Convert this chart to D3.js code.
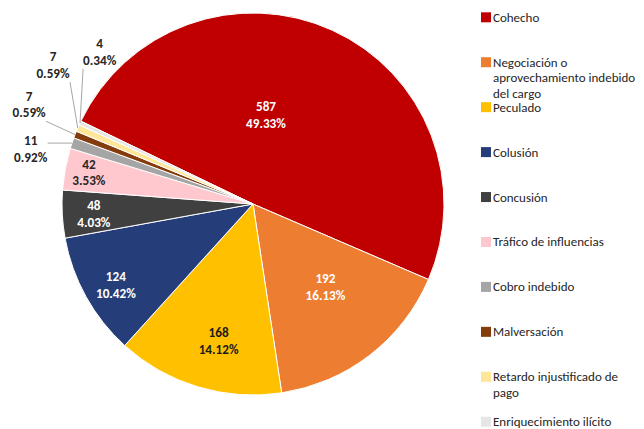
<!DOCTYPE html>
<html>
<head>
<meta charset="utf-8">
<script src="https://cdn.jsdelivr.net/npm/d3@7"></script>
<style>
  html, body { margin: 0; padding: 0; background: #fff; }
  svg { display: block; font-family: Carlito, Calibri, Lato, sans-serif; }
</style>
</head>
<body>
<div id="chart"></div>
<script>
// data
var categories = ["Cohecho", "Negociación o aprovechamiento indebido del cargo", "Peculado", "Colusión",
  "Concusión", "Tráfico de influencias", "Cobro indebido", "Malversación",
  "Retardo injustificado de pago", "Enriquecimiento ilícito"];
var counts = [587, 192, 168, 124, 48, 42, 11, 7, 7, 4];
// how the legend wraps the long names
var legendLines = [["Cohecho"], ["Negociación o", "aprovechamiento indebido", "del cargo"], ["Peculado"], ["Colusión"],
  ["Concusión"], ["Tráfico de influencias"], ["Cobro indebido"], ["Malversación"],
  ["Retardo injustificado de", "pago"], ["Enriquecimiento ilícito"]];

var colors = ["#c00000", "#ed7d31", "#ffc000", "#253e7a", "#404040", "#ffc7ce", "#a5a5a5", "#843c0c", "#ffe699", "#e7e6e6"];
var labelColors = ["#fff", "#fff", "#1a1a1a", "#fff", "#fff", "#262626", "#262626", "#262626", "#262626", "#262626"];
// label spot per slice: [angle in degrees clockwise from top, radius as share of the pie radius]
var labelLayout = [[8.3, 0.471], [138.9, 0.577], [194.1, 0.74], [239.4, 0.834], [266.4, 0.835],
  [280.9, 0.875], [283.9, 1.199], [294, 1.283], [304.8, 1.275], [314.8, 1.131]];

var width = 644, height = 429;
var cx = 253, cy = 204, R = 191;
var startDeg = -64.3;

var svg = d3.select("#chart").append("svg").attr("width", width).attr("height", height);
svg.append("rect").attr("width", width).attr("height", height).attr("fill", "#fff");

var total = d3.sum(counts);
var pct = d3.format(".2%");
var rows = counts.map(function (v, i) { return { name: categories[i], value: v, i: i }; });

var pie = d3.pie().sort(null).value(function (d) { return d.value; })
  .startAngle(startDeg * Math.PI / 180).endAngle(startDeg * Math.PI / 180 + 2 * Math.PI);
var arc = d3.arc().innerRadius(0).outerRadius(R);
var arcs = pie(rows);

var g = svg.append("g").attr("transform", "translate(" + cx + "," + cy + ")");

g.selectAll("path.slice").data(arcs).enter().append("path")
  .attr("class", "slice")
  .attr("d", arc)
  .attr("fill", function (d) { return colors[d.data.i]; })
  .attr("stroke", "#fff")
  .attr("stroke-width", 1);

function polar(deg, r) {
  var a = deg * Math.PI / 180;
  return [Math.sin(a) * r, -Math.cos(a) * r];
}

// labels
arcs.forEach(function (d) {
  var i = d.data.i;
  var p = polar(labelLayout[i][0], labelLayout[i][1] * R);
  var lg = g.append("g").attr("transform", "translate(" + p[0] + "," + p[1] + ")");
  var t = lg.append("text").attr("text-anchor", "middle")
    .attr("font-size", 13.2).attr("font-weight", "bold").attr("fill", labelColors[i]);
  t.append("tspan").attr("x", 0).attr("y", -3.6).text(d.data.value);
  t.append("tspan").attr("x", 0).attr("y", 13).text(pct(d.data.value / total));

  if (labelLayout[i][1] > 1) {
    // leader line from the slice edge to the nearest point of the label box
    var mid = (d.startAngle + d.endAngle) / 2;
    var ex = Math.sin(mid) * R, ey = -Math.cos(mid) * R;
    var b = t.node().getBBox();
    var nx = Math.max(p[0] + b.x, Math.min(ex, p[0] + b.x + b.width));
    var ny = Math.max(p[1] + b.y, Math.min(ey, p[1] + b.y + b.height));
    g.insert("line", "g").attr("x1", nx).attr("y1", ny).attr("x2", ex).attr("y2", ey)
      .attr("stroke", "#a6a6a6").attr("stroke-width", 1);
  }
});

// legend
var legend = svg.append("g").attr("transform", "translate(481,0)");
var rowY = d3.scaleLinear().domain([0, categories.length - 1]).range([17.3, 421.7]);
legendLines.forEach(function (lines, i) {
  var y = rowY(i);
  legend.append("rect").attr("x", 0).attr("y", y - 5).attr("width", 10).attr("height", 10)
    .attr("fill", colors[i]);
  var t = legend.append("text").attr("font-size", 13).attr("fill", "#262626");
  lines.forEach(function (s, k) {
    t.append("tspan").attr("x", 12).attr("y", y + 4.5 + k * 15.6).text(s);
  });
});
</script>
</body>
</html>
